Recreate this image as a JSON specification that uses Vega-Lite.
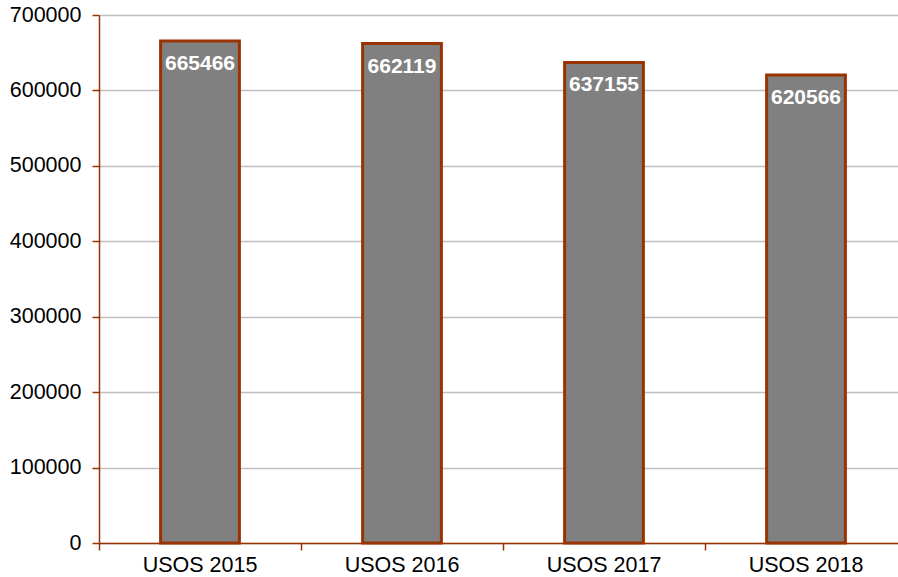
{
  "$schema": "https://vega.github.io/schema/vega-lite/v6.json",
  "autosize": "none",
  "width": 799,
  "height": 528,
  "padding": {"left": 99, "top": 15, "right": 0, "bottom": 34},
  "background": "white",
  "config": {"view": {"stroke": null}, "font": "Liberation Sans"},
  "data": {"values": [
    {"cat": "USOS 2015", "value": 665466},
    {"cat": "USOS 2016", "value": 662119},
    {"cat": "USOS 2017", "value": 637155},
    {"cat": "USOS 2018", "value": 620566}
  ]},
  "encoding": {
    "x": {"field": "cat", "type": "nominal", "sort": null,
      "scale": {"paddingInner": 0, "paddingOuter": 0, "range": [0, 808]},
      "axis": {"title": null, "bandPosition": 0, "labelAngle": 0,
        "domainColor": "#993300", "domainWidth": 1.5, "tickColor": "#993300", "tickWidth": 1.5, "tickSize": 7,
        "labelFont": "Liberation Sans", "labelFontSize": 21.5, "labelColor": "#000000", "labelPadding": 4, "grid": false}},
    "y": {"field": "value", "type": "quantitative",
      "scale": {"domain": [0, 700000], "nice": false},
      "axis": {"title": null, "values": [0, 100000, 200000, 300000, 400000, 500000, 600000, 700000], "format": "d",
        "domainColor": "#993300", "domainWidth": 1.5, "tickColor": "#993300", "tickWidth": 1.5, "tickSize": 7,
        "labelFont": "Liberation Sans", "labelFontSize": 21.5, "labelColor": "#000000", "labelPadding": 11,
        "grid": true, "gridColor": "#bfbfbf", "gridWidth": 1.5}}
  },
  "layer": [
    {"mark": {"type": "bar", "width": {"band": 0.39}, "fill": "#808080", "stroke": "#993300", "strokeWidth": 3}},
    {"mark": {"type": "text", "baseline": "middle", "dy": 23, "fill": "white", "fontWeight": "bold", "fontSize": 21, "font": "Liberation Sans"},
      "encoding": {"text": {"field": "value", "type": "quantitative", "format": "d"}}}
  ]
}
